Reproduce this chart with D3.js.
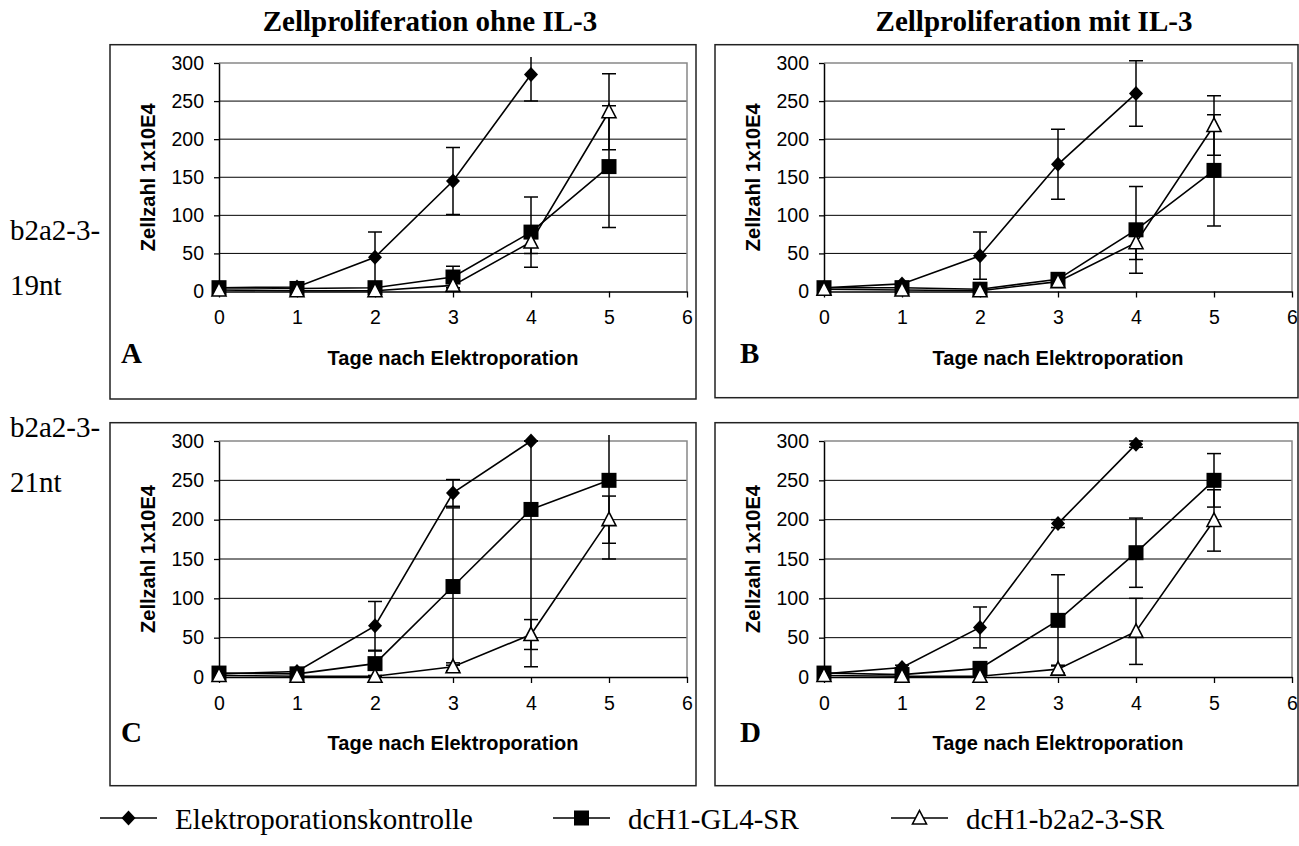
<!DOCTYPE html>
<html>
<head>
<meta charset="utf-8">
<script src="https://cdnjs.cloudflare.com/ajax/libs/d3/7.8.5/d3.min.js"></script>
<style>
  body { margin: 0; background: #fff; }
</style>
</head>
<body>
<div id="my_dataviz"></div>
<script>
// Tage nach Elektroporation + Achsen
var days = [0, 1, 2, 3, 4, 5]
var xTicks = [0, 1, 2, 3, 4, 5, 6]
var yTicks = [0, 50, 100, 150, 200, 250, 300]
var seriesNames = ['Elektroporationskontrolle', 'dcH1-GL4-SR', 'dcH1-b2a2-3-SR']

// Panel A: 19nt ohne IL-3
var aKontrolle = [5, 6, 45, 145, 285]
var aKontrolleErr = [1, 2, 33, 44, 35]
var aGL4 = [5, 4, 5, 19, 78, 164]
var aGL4Err = [2, 2, 5, 14, 46, 80]
var aB2a2 = [2, 1, 1, 8, 65, 236]
var aB2a2Err = [1, 1, 1, 3, 15, 50]

// Panel B: 19nt mit IL-3
var bKontrolle = [5, 10, 47, 167, 260]
var bKontrolleErr = [2, 3, 31, 46, 43]
var bGL4 = [5, 5, 3, 16, 81, 159]
var bGL4Err = [2, 2, 3, 5, 57, 73]
var bB2a2 = [3, 2, 1, 13, 64, 218]
var bB2a2Err = [1, 1, 1, 4, 22, 39]

// Panel C: 21nt ohne IL-3
var cKontrolle = [4, 7, 65, 234, 300]
var cKontrolleErr = [1, 2, 31, 17, 0]
var cGL4 = [5, 4, 17, 115, 213, 250]
var cGL4Err = [2, 2, 16, 100, 200, 100]
var cB2a2 = [2, 1, 1, 13, 54, 200]
var cB2a2Err = [1, 1, 1, 5, 19, 30]

// Panel D: 21nt mit IL-3
var dKontrolle = [4, 12, 63, 195, 296]
var dKontrolleErr = [1, 3, 26, 5, 4]
var dGL4 = [5, 3, 11, 72, 158, 250]
var dGL4Err = [2, 2, 8, 58, 44, 34]
var dB2a2 = [2, 1, 1, 10, 58, 199]
var dB2a2Err = [1, 1, 1, 5, 42, 39]

var serif = "'Liberation Serif', 'Times New Roman', serif"
var sans = "'Liberation Sans', Arial, sans-serif"

var svg = d3
  .select('#my_dataviz')
  .append('svg')
  .attr('width', 1299)
  .attr('height', 846)

// Layout of the four panels (box + plot area)
var panels = [
  { letter: 'A', box: [110, 44.7, 696, 399], plot: [219, 63, 687, 291.5],
    series: [[aKontrolle, aKontrolleErr], [aGL4, aGL4Err], [aB2a2, aB2a2Err]] },
  { letter: 'B', box: [715, 44.7, 1298, 397.7], plot: [824, 63, 1292, 291.5],
    series: [[bKontrolle, bKontrolleErr], [bGL4, bGL4Err], [bB2a2, bB2a2Err]] },
  { letter: 'C', box: [110, 422.7, 696, 785.7], plot: [219, 441, 687, 677],
    series: [[cKontrolle, cKontrolleErr], [cGL4, cGL4Err], [cB2a2, cB2a2Err]] },
  { letter: 'D', box: [715, 422.7, 1298, 785.7], plot: [824, 441, 1292, 677],
    series: [[dKontrolle, dKontrolleErr], [dGL4, dGL4Err], [dB2a2, dB2a2Err]] }
]

// Marker painters for the three series
function drawMarker(g, kind, cx, cy) {
  if (kind === 0) {
    g.append('path')
      .attr('d', 'M' + cx + ',' + (cy - 7.5) + 'L' + (cx + 7) + ',' + cy + 'L' + cx + ',' + (cy + 7.5) + 'L' + (cx - 7) + ',' + cy + 'Z')
      .attr('fill', '#000')
  } else if (kind === 1) {
    g.append('rect')
      .attr('x', cx - 7.5).attr('y', cy - 7.5)
      .attr('width', 15).attr('height', 15)
      .attr('fill', '#000')
  } else {
    g.append('path')
      .attr('d', 'M' + cx + ',' + (cy - 7.5) + 'L' + (cx + 7) + ',' + (cy + 6) + 'L' + (cx - 7) + ',' + (cy + 6) + 'Z')
      .attr('fill', '#fff')
      .attr('stroke', '#000')
      .attr('stroke-width', 1.6)
  }
}

panels.forEach(function (p, i) {
  var g = svg.append('g')

  // outer frame
  g.append('rect')
    .attr('x', p.box[0]).attr('y', p.box[1])
    .attr('width', p.box[2] - p.box[0]).attr('height', p.box[3] - p.box[1])
    .attr('fill', 'none').attr('stroke', '#222').attr('stroke-width', 1.5)

  var x = d3.scaleLinear().domain([0, 6]).range([p.plot[0], p.plot[2]])
  var y = d3.scaleLinear().domain([0, 300]).range([p.plot[3], p.plot[1]])

  // gridlines
  g.selectAll('.grid')
    .data(yTicks.filter(function (d) { return d > 0 && d < 300 }))
    .enter()
    .append('line')
    .attr('x1', p.plot[0]).attr('x2', p.plot[2])
    .attr('y1', function (d) { return y(d) }).attr('y2', function (d) { return y(d) })
    .attr('stroke', '#000').attr('stroke-width', 1)

  // gray plot-area border top/right
  g.append('path')
    .attr('d', 'M' + p.plot[0] + ',' + y(300) + 'H' + p.plot[2] + 'V' + y(0))
    .attr('fill', 'none').attr('stroke', '#888').attr('stroke-width', 1.5)

  // axes
  var yAxis = g.append('g')
    .attr('transform', 'translate(' + p.plot[0] + ',0)')
    .call(d3.axisLeft(y).tickValues(yTicks).tickFormat(d3.format('d')).tickSize(5).tickPadding(10).tickSizeOuter(0))
  var xAxis = g.append('g')
    .attr('transform', 'translate(0,' + p.plot[3] + ')')
    .call(d3.axisBottom(x).tickValues(xTicks).tickFormat(d3.format('d')).tickSize(6).tickPadding(13).tickSizeOuter(0))
  ;[yAxis, xAxis].forEach(function (a) {
    a.select('.domain').attr('stroke', '#000').attr('stroke-width', 1.5)
    a.selectAll('.tick line').attr('stroke', '#000').attr('stroke-width', 1.3)
    a.selectAll('text').attr('font-family', sans).attr('font-size', 19.5).attr('fill', '#000')
  })

  // axis titles
  g.append('text')
    .attr('transform', 'translate(' + (p.plot[0] - 64) + ',' + ((p.plot[1] + p.plot[3]) / 2) + ') rotate(-90)')
    .attr('text-anchor', 'middle')
    .attr('font-family', sans).attr('font-weight', 'bold').attr('font-size', 20)
    .text('Zellzahl 1x10E4')
  g.append('text')
    .attr('x', (p.plot[0] + p.plot[2]) / 2)
    .attr('y', p.plot[3] + 73)
    .attr('text-anchor', 'middle')
    .attr('font-family', sans).attr('font-weight', 'bold').attr('font-size', 20)
    .text('Tage nach Elektroporation')

  // panel letter
  g.append('text')
    .attr('x', i % 2 === 0 ? 121 : 740)
    .attr('y', i < 2 ? 363 : 742)
    .attr('font-family', serif).attr('font-weight', 'bold').attr('font-size', 29)
    .text(p.letter)

  // clip error bars a little above plot top
  var clipId = 'clip' + i
  svg.append('clipPath').attr('id', clipId)
    .append('rect')
    .attr('x', p.plot[0] - 20).attr('y', p.plot[1] - 6)
    .attr('width', p.plot[2] - p.plot[0] + 40).attr('height', p.plot[3] - p.plot[1] + 6)

  var line = d3.line()
    .x(function (d) { return x(d[0]) })
    .y(function (d) { return y(d[1]) })

  // lines first
  p.series.forEach(function (s) {
    var pts = s[0].map(function (v, k) { return [days[k], v] })
    g.append('path')
      .attr('d', line(pts))
      .attr('fill', 'none').attr('stroke', '#000').attr('stroke-width', 1.6)
  })

  // error bars
  var eb = g.append('g').attr('clip-path', 'url(#' + clipId + ')')
  p.series.forEach(function (s) {
    s[0].forEach(function (v, k) {
      var e = s[1][k]
      var cx = x(days[k])
      var top = y(v + e), bot = y(Math.max(v - e, 0))
      eb.append('line')
        .attr('x1', cx).attr('x2', cx).attr('y1', top).attr('y2', bot)
        .attr('stroke', '#000').attr('stroke-width', 1.5)
      ;[top, y(v - e)].forEach(function (yy) {
        eb.append('line')
          .attr('x1', cx - 7).attr('x2', cx + 7).attr('y1', yy).attr('y2', yy)
          .attr('stroke', '#000').attr('stroke-width', 1.5)
      })
    })
  })

  // markers on top
  p.series.forEach(function (s, si) {
    s[0].forEach(function (v, k) {
      drawMarker(g, si, x(days[k]), y(v))
    })
  })
})

// column titles
var titles = [['Zellproliferation ohne IL-3', 430], ['Zellproliferation mit IL-3', 1034]]
titles.forEach(function (t) {
  svg.append('text')
    .attr('x', t[1]).attr('y', 31)
    .attr('text-anchor', 'middle')
    .attr('font-family', serif).attr('font-weight', 'bold').attr('font-size', 29)
    .text(t[0])
})

// row labels
var rowLabels = [['b2a2-3-', 240], ['19nt', 295], ['b2a2-3-', 437], ['21nt', 492]]
rowLabels.forEach(function (r) {
  svg.append('text')
    .attr('x', 10).attr('y', r[1])
    .attr('font-family', serif).attr('font-size', 29)
    .text(r[0])
})

// legend
var legendX = [100, 553, 891]
seriesNames.forEach(function (name, i) {
  var lx = legendX[i]
  svg.append('line')
    .attr('x1', lx).attr('x2', lx + 57).attr('y1', 818).attr('y2', 818)
    .attr('stroke', '#000').attr('stroke-width', 1.6)
  drawMarker(svg, i, lx + 28.5, 818)
  svg.append('text')
    .attr('x', lx + 75).attr('y', 829)
    .attr('font-family', serif).attr('font-size', 29)
    .text(name)
})
</script>
</body>
</html>
